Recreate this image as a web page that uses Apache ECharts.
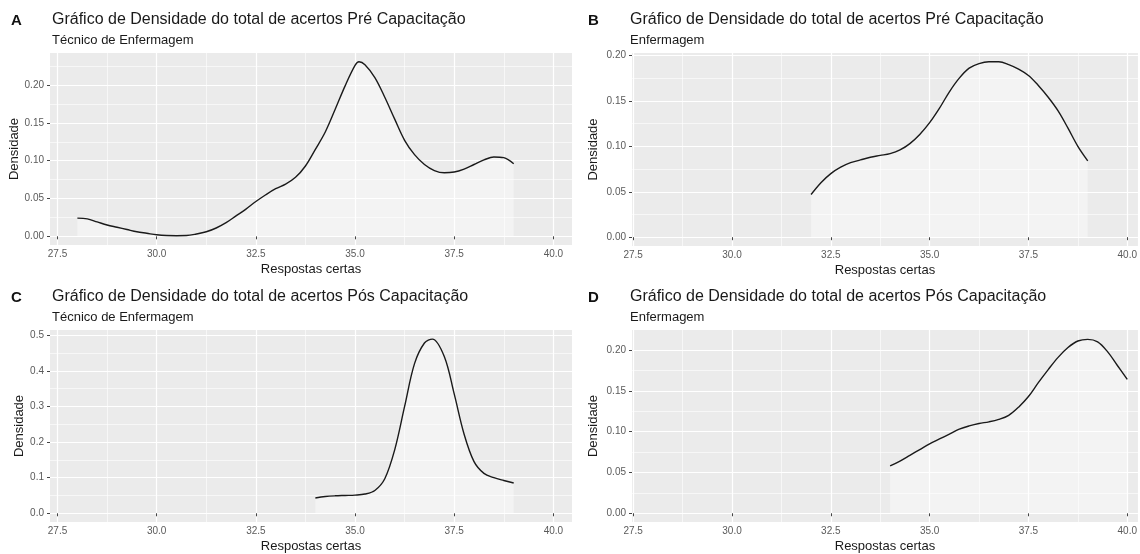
<!DOCTYPE html>
<html>
<head>
<meta charset="utf-8">
<script src="https://cdn.jsdelivr.net/npm/echarts@6/dist/echarts.min.js"></script>
<style>
  html, body { margin: 0; padding: 0; background: #fff; }
  #chart { width: 1140px; height: 554px; }
</style>
</head>
<body>
<div id="chart"></div>
<script>
// tick values shared by all panels
const xTicks = [27.5, 30, 32.5, 35, 37.5, 40]
const xMinor = [28.75, 31.25, 33.75, 36.25, 38.75]
const yTicksSmall = [0, 0.05, 0.1, 0.15, 0.2]
const yMinorSmall = [0.025, 0.075, 0.125, 0.175, 0.225]
const yTicksPosTec = [0, 0.1, 0.2, 0.3, 0.4, 0.5]
const yMinorPosTec = [0.05, 0.15, 0.25, 0.35, 0.45]

// A - Pre, Tecnico de Enfermagem
const xPreTec = [28, 28.25, 28.5, 28.75, 29, 29.25, 29.5, 29.75, 30, 30.25, 30.5, 30.75, 31, 31.25, 31.5, 31.75, 32, 32.25, 32.5, 32.75, 33, 33.25, 33.5, 33.75, 34, 34.25, 34.5, 34.75, 35, 35.1, 35.25, 35.5, 35.75, 36, 36.25, 36.5, 36.75, 37, 37.25, 37.5, 37.75, 38, 38.25, 38.5, 38.75, 39]
const densPreTec = [0.024, 0.023, 0.019, 0.015, 0.012, 0.009, 0.006, 0.004, 0.002, 0.001, 0.0008, 0.001, 0.003, 0.006, 0.011, 0.018, 0.027, 0.036, 0.046, 0.055, 0.063, 0.069, 0.078, 0.093, 0.115, 0.138, 0.168, 0.199, 0.226, 0.231, 0.227, 0.210, 0.184, 0.155, 0.127, 0.108, 0.095, 0.087, 0.084, 0.085, 0.089, 0.095, 0.101, 0.105, 0.104, 0.096]

// B - Pre, Enfermagem
const xPreEnf = [32, 32.25, 32.5, 32.75, 33, 33.25, 33.5, 33.75, 34, 34.25, 34.5, 34.75, 35, 35.25, 35.5, 35.75, 36, 36.25, 36.5, 36.75, 37, 37.25, 37.5, 37.75, 38, 38.25, 38.5, 38.75, 39]
const densPreEnf = [0.047, 0.060, 0.070, 0.077, 0.082, 0.085, 0.088, 0.090, 0.092, 0.096, 0.103, 0.113, 0.126, 0.142, 0.160, 0.175, 0.186, 0.191, 0.193, 0.193, 0.190, 0.185, 0.178, 0.167, 0.154, 0.139, 0.120, 0.100, 0.084]

// C - Pos, Tecnico de Enfermagem
const xPosTec = [34, 34.25, 34.5, 34.75, 35, 35.25, 35.5, 35.75, 36, 36.25, 36.5, 36.75, 36.95, 37.25, 37.5, 37.75, 38, 38.25, 38.5, 38.75, 39]
const densPosTec = [0.043, 0.047, 0.049, 0.050, 0.051, 0.054, 0.064, 0.097, 0.178, 0.300, 0.420, 0.478, 0.489, 0.440, 0.335, 0.222, 0.145, 0.112, 0.100, 0.092, 0.085]

// D - Pos, Enfermagem
const xPosEnf = [34, 34.25, 34.5, 34.75, 35, 35.25, 35.5, 35.75, 36, 36.25, 36.5, 36.75, 37, 37.25, 37.5, 37.75, 38, 38.25, 38.5, 38.75, 39, 39.25, 39.5, 39.75, 40]
const densPosEnf = [0.058, 0.064, 0.071, 0.078, 0.085, 0.091, 0.097, 0.103, 0.107, 0.110, 0.112, 0.115, 0.120, 0.130, 0.143, 0.160, 0.176, 0.191, 0.203, 0.211, 0.213, 0.210, 0.198, 0.181, 0.164]

const font = 'Liberation Sans, Arial, Helvetica, sans-serif'

const panels = [
  { tag: 'A', title: 'Gráfico de Densidade do total de acertos Pré Capacitação', sub: 'Técnico de Enfermagem',
    x: xPreTec, y: densPreTec, yTicks: yTicksSmall, yMinor: yMinorSmall, digits: 2,
    left: 50, top: 53, width: 522, height: 192, xMin: 27.31, xMax: 40.47, yMin: -0.0115, yMax: 0.2425,
    tagLeft: 11, titleLeft: 52, titleTop: 12, yNameGap: 23 },
  { tag: 'B', title: 'Gráfico de Densidade do total de acertos Pré Capacitação', sub: 'Enfermagem',
    x: xPreEnf, y: densPreEnf, yTicks: yTicksSmall, yMinor: yMinorSmall, digits: 2,
    left: 632, top: 53, width: 508, height: 193, xMin: 27.47, xMax: 40.27, yMin: -0.0097, yMax: 0.2027,
    tagLeft: 588, titleLeft: 630, titleTop: 12, yNameGap: 32 },
  { tag: 'C', title: 'Gráfico de Densidade do total de acertos Pós Capacitação', sub: 'Técnico de Enfermagem',
    x: xPosTec, y: densPosTec, yTicks: yTicksPosTec, yMinor: yMinorPosTec, digits: 1,
    left: 50, top: 330, width: 522, height: 192, xMin: 27.31, xMax: 40.47, yMin: -0.0245, yMax: 0.5145,
    tagLeft: 11, titleLeft: 52, titleTop: 289, yNameGap: 23 },
  { tag: 'D', title: 'Gráfico de Densidade do total de acertos Pós Capacitação', sub: 'Enfermagem',
    x: xPosEnf, y: densPosEnf, yTicks: yTicksSmall, yMinor: yMinorSmall, digits: 2,
    left: 632, top: 330, width: 508, height: 192, xMin: 27.47, xMax: 40.27, yMin: -0.0107, yMax: 0.2245,
    tagLeft: 588, titleLeft: 630, titleTop: 289, yNameGap: 32 }
]

const chart = echarts.init(document.getElementById('chart'))

const title = []
const grid = []
const xAxis = []
const yAxis = []
const series = []

panels.forEach((p, i) => {
  title.push({
    text: p.tag, left: p.tagLeft, top: p.titleTop + 1, padding: 0,
    textStyle: { fontFamily: font, fontSize: 15, fontWeight: 'bold', color: '#111' }
  })
  title.push({
    text: p.title, left: p.titleLeft, top: p.titleTop, padding: 0,
    textStyle: { fontFamily: font, fontSize: 16, fontWeight: 'normal', color: '#1a1a1a' }
  })
  title.push({
    text: p.sub, left: p.titleLeft, top: p.titleTop + 22, padding: 0,
    textStyle: { fontFamily: font, fontSize: 13, fontWeight: 'normal', color: '#1a1a1a' }
  })

  grid.push({
    left: p.left, top: p.top, width: p.width, height: p.height,
    show: true, backgroundColor: '#ebebeb', borderWidth: 0
  })

  const inX = xMinor.filter(v => v >= p.xMin && v <= p.xMax)
  const inY = p.yMinor.filter(v => v >= p.yMin && v <= p.yMax)

  // major x axis
  xAxis.push({
    type: 'value', gridIndex: i, min: p.xMin, max: p.xMax,
    name: 'Respostas certas', nameLocation: 'middle', nameGap: 18,
    nameTextStyle: { fontFamily: font, fontSize: 13, color: '#1a1a1a' },
    axisLine: { show: false },
    axisTick: { show: true, length: 3, customValues: xTicks, lineStyle: { color: '#444', width: 1 } },
    axisLabel: { customValues: xTicks, margin: 4, fontFamily: font, fontSize: 10, color: '#5a5a5a',
      formatter: v => v.toFixed(1) },
    splitLine: { show: true, lineStyle: { color: '#ffffff', width: 1.2 } }
  })
  // minor x grid lines
  xAxis.push({
    type: 'value', gridIndex: i, min: p.xMin, max: p.xMax,
    axisLine: { show: false },
    axisTick: { show: false, customValues: inX },
    axisLabel: { show: false, customValues: inX },
    splitLine: { show: true, lineStyle: { color: '#ffffff', width: 0.6 } }
  })

  yAxis.push({
    type: 'value', gridIndex: i, min: p.yMin, max: p.yMax,
    name: 'Densidade', nameLocation: 'middle', nameGap: p.yNameGap, nameRotate: 90,
    nameTextStyle: { fontFamily: font, fontSize: 13, color: '#1a1a1a' },
    axisLine: { show: false },
    axisTick: { show: true, length: 3, customValues: p.yTicks, lineStyle: { color: '#444', width: 1 } },
    axisLabel: { customValues: p.yTicks, margin: 6, fontFamily: font, fontSize: 10, color: '#5a5a5a',
      formatter: v => v.toFixed(p.digits) },
    splitLine: { show: true, lineStyle: { color: '#ffffff', width: 1.2 } }
  })
  yAxis.push({
    type: 'value', gridIndex: i, min: p.yMin, max: p.yMax,
    axisLine: { show: false },
    axisTick: { show: false, customValues: inY },
    axisLabel: { show: false, customValues: inY },
    splitLine: { show: true, lineStyle: { color: '#ffffff', width: 0.6 } }
  })

  series.push({
    type: 'line',
    xAxisIndex: 2 * i,
    yAxisIndex: 2 * i,
    data: p.x.map((v, j) => [v, p.y[j]]),
    smooth: 0.35,
    symbol: 'none',
    lineStyle: { color: '#1a1a1a', width: 1.4 },
    areaStyle: { color: 'rgba(255,255,255,0.55)' },
    animation: false
  })
})

chart.setOption({
  backgroundColor: '#ffffff',
  animation: false,
  title: title,
  grid: grid,
  xAxis: xAxis,
  yAxis: yAxis,
  series: series
})
</script>
</body>
</html>
